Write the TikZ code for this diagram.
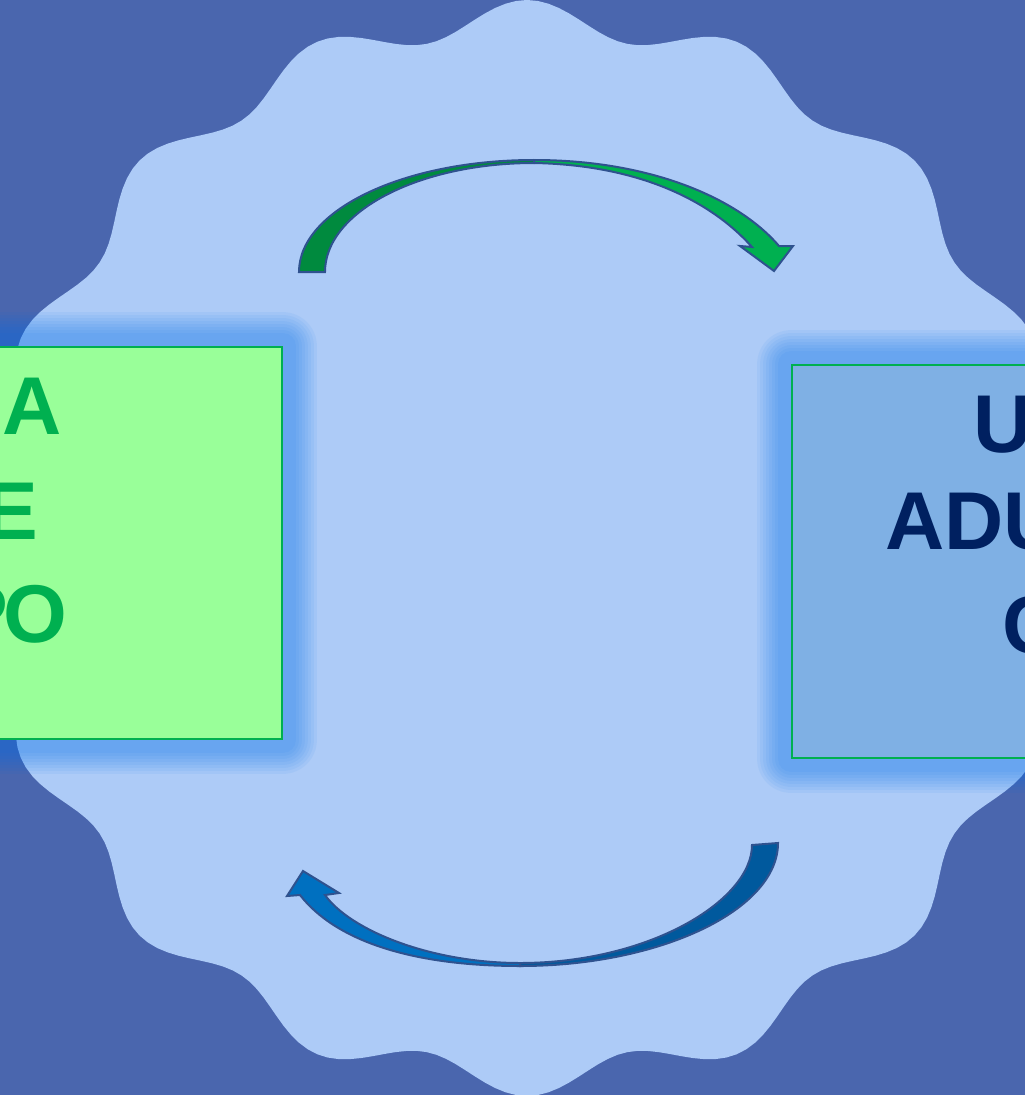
\documentclass[tikz,border=0pt]{standalone}
\usepackage{fontspec}
\newfontfamily\boxfont{Liberation Sans}
\usepackage{tikz}

\definecolor{bgblue}{HTML}{4A66AE}
\definecolor{sealblue}{HTML}{ADCBF7}
\definecolor{glowblue}{HTML}{0070F0}
\definecolor{lboxfill}{HTML}{99FF99}
\definecolor{rboxfill}{HTML}{7FB0E4}
\definecolor{boxline}{HTML}{00B050}
\definecolor{ltextc}{HTML}{00B050}
\definecolor{rtextc}{HTML}{002060}
\definecolor{arrline}{HTML}{2F528F}
\definecolor{greendark}{HTML}{008A3E}
\definecolor{greenlight}{HTML}{00B050}
\definecolor{bluedark}{HTML}{00599D}
\definecolor{bluelight}{HTML}{0070C0}

\pgfdeclarelayer{back}
\pgfdeclarelayer{glow}
\pgfsetlayers{back,glow,main}

\tikzset{
	boxst/.style={draw=boxline, line width=1.8pt, rectangle, inner sep=0pt},
	ltext/.style={text=ltextc, inner sep=0pt, font=\boxfont\bfseries\fontsize{82}{102}\selectfont},
	rtext/.style={text=rtextc, inner sep=0pt, font=\boxfont\bfseries\fontsize{82}{102}\selectfont},
	arrpart/.style={draw=arrline, line width=2pt, line join=miter}
}

\begin{document}
\begin{tikzpicture}[x=1pt, y=-1pt]
	\path[use as bounding box] (0,0) rectangle (1025,1095);
	\clip (0,0) rectangle (1025,1095);

	\begin{pgfonlayer}{back}
		\fill[bgblue] (0,0) rectangle (1025,1095);
		% wavy seal
		\fill[sealblue, shift={(527,548)}] plot[domain=0:360, samples=321, variable=\t] (\t:{531+17*cos(16*\t)}) -- cycle;
	\end{pgfonlayer}

	\node[boxst, fill=lboxfill, minimum width=522, minimum height=392] (lbox) at (21,543) {};
	\node[boxst, fill=rboxfill, minimum width=520, minimum height=393] (rbox) at (1052,561.5) {};

	\begin{pgfonlayer}{glow}
		\foreach \b in {lbox,rbox}
			\foreach \d in {13,16,...,34}
				\fill[glowblue, opacity=0.058, rounded corners=\d] ([shift={(-\d,-\d)}]\b.north west) rectangle ([shift={(\d,\d)}]\b.south east);
	\end{pgfonlayer}

	\node[ltext, anchor=base east] (lA) at (62,434) {A};
	\node[ltext, anchor=base east] (lE) at (38,539) {E};
	\node[ltext, anchor=base east] (lPO) at (67,642) {P\kern-5pt O};

	\node[rtext, anchor=base west] (rU) at (973,452) {U};
	\node[rtext, anchor=base west] (rADU) at (885,549) {ADU};
	\node[rtext, anchor=base west] (rC) at (1002,653) {C};

	% top arrow
	\filldraw[arrpart, fill=greendark] (299,272) .. controls (299,210) and (404,160) .. (534,160) -- (534,163) .. controls (418.6,163) and (325,211.8) .. (325,272) -- cycle;
	\filldraw[arrpart, fill=greenlight] (534,160) .. controls (650,160) and (738,198) .. (779,246) -- (793,246) -- (774,271) -- (740,246) -- (752,247) .. controls (710,200) and (638,165) .. (534,163) -- cycle;

	% bottom arrow
	\filldraw[arrpart, fill=bluedark] (778,843) .. controls (778,910) and (660,966) .. (520,966) -- (520,963) .. controls (650,963) and (752,900) .. (752,845) -- cycle;
	\filldraw[arrpart, fill=bluelight] (520,966) .. controls (410,966) and (335,940) .. (300,895) -- (287,896) -- (303,871) -- (339,893) -- (325,895) .. controls (350,930) and (430,963) .. (520,963) -- cycle;
\end{tikzpicture}
\end{document}
